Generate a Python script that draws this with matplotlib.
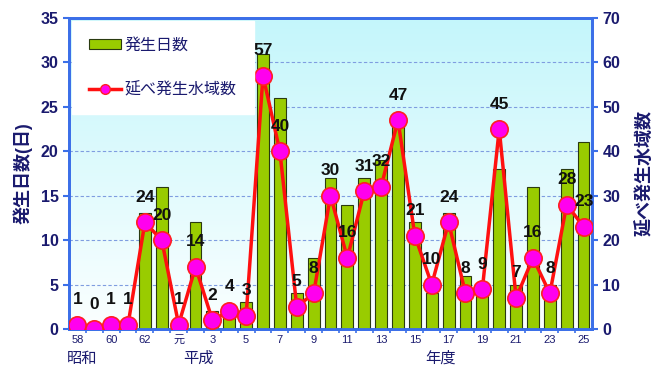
import numpy as np
import matplotlib
matplotlib.use("Agg")
import matplotlib.pyplot as plt
from matplotlib.colors import LinearSegmentedColormap
from matplotlib.patches import Patch
from matplotlib.lines import Line2D

plt.rcParams['font.family'] = ['Liberation Sans', 'Noto Sans CJK JP']

# 昭和58年度〜平成25年度
years = ["58", "59", "60", "61", "62", "63", "元"] + [str(y) for y in range(2, 26)]
days = [1, 0, 1, 1, 13, 16, 1, 12, 2, 2, 3, 31, 26, 4, 8, 17,
        14, 17, 19, 24, 12, 4, 13, 6, 5, 18, 5, 16, 5, 18, 21]
areas = [1, 0, 1, 1, 24, 20, 1, 14, 2, 4, 3, 57, 40, 5, 8, 30,
         16, 31, 32, 47, 21, 10, 24, 8, 9, 45, 7, 16, 8, 28, 23]

NAVY = "#1a1a6e"
BLUE = "#3b6fe8"
BAR = "#99cc00"

x = np.arange(len(years))

fig = plt.figure(figsize=(6.67, 3.71), dpi=100)
ax = fig.add_axes([0.1034, 0.1132, 0.7842, 0.8383])
ax2 = ax.twinx()

# soft white-to-cyan background inside the plot (cyan at the top)
grad = np.linspace(0, 1, 256).reshape(-1, 1)
cmap = LinearSegmentedColormap.from_list("bg", ["#fbffff", "#c4f6fb"])
ax.imshow(grad, cmap=cmap, aspect="auto", extent=(-0.5, 30.5, 0, 35),
          origin="lower", zorder=0)

ax.bar(x, days, width=0.7, color=BAR, edgecolor="#2a3a10", linewidth=0.8, zorder=3)
ax.set_xlim(-0.5, 30.5)
ax.set_ylim(0, 35)
ax.set_yticks(range(0, 36, 5))
for y in range(5, 35, 5):
    ax.axhline(y, color="#7f9de0", lw=0.8, ls=(0, (3, 2)), zorder=1)

ax2.plot(x, areas, color="#ff1010", lw=2.5, marker="o", markersize=12.5,
         markerfacecolor="#ff00ee", markeredgecolor="#ff2020", markeredgewidth=1.2,
         zorder=4)
ax2.set_ylim(0, 70)
ax2.set_yticks(range(0, 71, 10))
for xi, v in zip(x, areas):
    ax2.annotate(str(v), (xi, v), xytext=(0, 18), textcoords="offset points",
                 ha="center", va="center", fontsize=12.5, fontweight="bold",
                 color="#111111", zorder=12)

for a in (ax, ax2):
    for s in a.spines.values():
        s.set_color(BLUE)
        s.set_linewidth(2)
ax.tick_params(axis="y", colors=BLUE, length=4, width=1.5, labelsize=11.5)
ax2.tick_params(axis="y", colors=BLUE, length=4, width=1.5, labelsize=11.5)
for lab in ax.get_yticklabels() + ax2.get_yticklabels():
    lab.set_color(NAVY)
    lab.set_fontweight("bold")

ax.set_xticks(x[::2])
ax.set_xticklabels(years[::2], fontsize=8, color=NAVY)
ax.set_xticks(x[:-1] + 0.5, minor=True)
ax.tick_params(axis="x", which="major", length=0, pad=4)
ax.tick_params(axis="x", which="minor", length=3, width=1.2, colors=BLUE)

ax.set_ylabel("発生日数(日)", color=NAVY, fontsize=13, fontweight="bold", labelpad=6)
ax2.set_ylabel("延べ発生水域数", color=NAVY, fontsize=13, fontweight="bold", labelpad=12)

fig.text(0.123, 0.022, "昭和", color=NAVY, fontsize=11, ha="center")
fig.text(0.298, 0.022, "平成", color=NAVY, fontsize=11, ha="center")
fig.text(0.660, 0.022, "年度", color=NAVY, fontsize=11, ha="center")

handles = [Patch(facecolor=BAR, edgecolor="#2a3a10", linewidth=0.8),
           Line2D([], [], color="#ff1010", lw=2.5, marker="o", markersize=7,
                  markerfacecolor="#ff00ee", markeredgecolor="#ff2020")]
leg = ax2.legend(handles, ["発生日数", "延べ発生水域数"], loc="upper left",
                 bbox_to_anchor=(0.0, 1.0), frameon=True, fancybox=False,
                 fontsize=11.5, labelspacing=1.8, borderpad=1.05,
                 handlelength=2.0, handleheight=0.6, handletextpad=0.25,
                 borderaxespad=0.2)
leg.get_frame().set_facecolor("white")
leg.get_frame().set_edgecolor("white")
leg.get_frame().set_alpha(1)
for t in leg.get_texts():
    t.set_color(NAVY)
leg.set_zorder(10)

fig.savefig("out.png", dpi=100)
